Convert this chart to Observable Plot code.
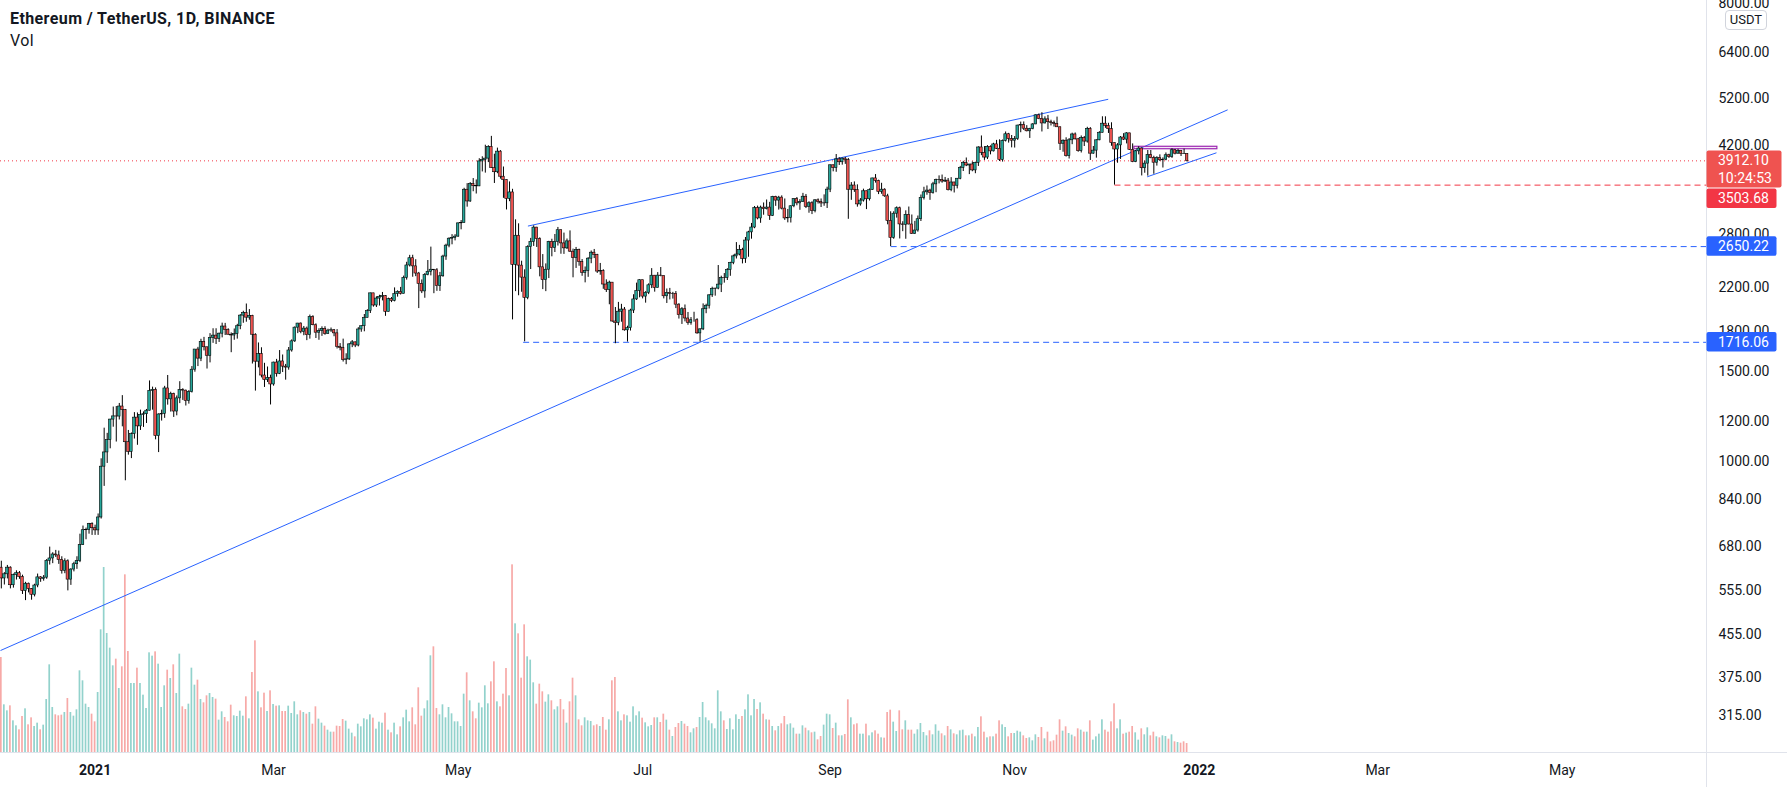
<!DOCTYPE html>
<html>
<head>
<meta charset="utf-8">
<script src="https://cdn.jsdelivr.net/npm/d3@7"></script>
<script src="https://cdn.jsdelivr.net/npm/@observablehq/plot@0.6"></script>
<style>
  html, body { margin: 0; padding: 0; background: #ffffff; }
  #wrap { position: relative; width: 1787px; height: 787px; overflow: hidden; background: #fff; font-family: Roboto, "Liberation Sans", sans-serif; color: #131722; }
  #wrap svg { position: absolute; left: 0; top: 0; }
  .ov { position: absolute; z-index: 5; white-space: nowrap; }
  #title { left: 10px; top: 9px; font-size: 16px; line-height: 19px; font-weight: bold; letter-spacing: 0.4px; }
  #vol { left: 10px; top: 31px; font-size: 16px; line-height: 19px; letter-spacing: 0.4px; }
  #usdt { left: 1725px; top: 10px; width: 42px; height: 20px; box-sizing: border-box; border: 1px solid #d1d4dc; border-radius: 4px; background: #fff; font-size: 13px; line-height: 18px; text-align: center; }
</style>
</head>
<body>
<div id="wrap">
  <div id="title" class="ov">Ethereum / TetherUS, 1D, BINANCE</div>
  <div id="vol" class="ov">Vol</div>
  <div id="usdt" class="ov">USDT</div>
</div>
<script>
// ---------------- DATA (ETH/USDT daily) ----------------
const startDate = "2020-12-01T00:00:00Z";
const firstOpen = 616.6;

const closes = [
  // Dec 2020
  587.2,598.4,616.7,569.4,596.4,601.3,591.2,554.6,573.3,559.8,545.3,568.7,590.1,585.9,589.3,636.3,643.0,654.8,652.0,638.5,608.0,634.9,584.1,611.4,626.4,635.3,683.7,731.0,731.8,751.6,737.7,
  // Jan 2021
  730.4,774.6,975.5,1040.7,1100.2,1208.1,1225.7,1224.9,1281.9,1262.2,1090.1,1043.4,1130.7,1218.9,1171.5,1233.5,1238.0,1257.9,1376.6,1382.9,1121.0,1236.4,1240.0,1391.6,1324.4,1357.1,1253.2,1330.2,1381.8,1378.0,1314.9,
  // Feb
  1369.0,1515.2,1660.7,1593.5,1719.0,1677.8,1614.2,1750.0,1769.1,1743.6,1784.7,1843.4,1814.8,1776.1,1770.0,1781.1,1846.0,1937.1,1960.4,1919.4,1935.4,1776.1,1571.6,1626.6,1475.7,1446.0,1459.5,1417.1,
  // Mar
  1565.1,1487.0,1573.0,1536.6,1530.0,1653.5,1723.5,1834.1,1868.5,1799.0,1826.2,1772.4,1924.5,1854.6,1792.5,1806.5,1823.7,1782.2,1810.0,1812.7,1787.3,1681.5,1670.9,1583.2,1588.0,1699.9,1715.5,1691.3,1818.9,1846.0,1918.1,
  // Apr
  1977.3,2143.2,2028.4,2093.1,2107.9,2117.0,1970.9,2088.6,2071.4,2135.9,2157.6,2139.0,2299.2,2432.6,2514.0,2422.7,2345.0,2237.6,2162.3,2330.0,2364.0,2386.0,2380.0,2216.0,2316.0,2533.0,2662.0,2747.0,2756.0,2773.0,
  // May
  2945,2949,3431,3253,3522,3490,3484,3902,3928,3952,4168,3786,3715,4079,3640,3585,3292,3389,2440,2784,2431,2302,2100,2644,2707,2889,2742,2412,2276,2386,2707,
  // Jun
  2633,2706,2855,2689,2629,2714,2590,2516,2609,2471,2353,2373,2509,2578,2553,2366,2372,2231,2177,2250,1886,1874,1972,1991,1812,1830,1982,2085,2166,2275,
  // Jul
  2112,2149,2223,2322,2197,2323,2317,2115,2148,2138,2139,2036,1941,1994,1912,1875,1897,1897,1787,1820,1994,2026,2124,2188,2190,2230,2299,2298,2382,2461,2535,
  // Aug
  2556,2609,2506,2724,2827,2890,3157,3012,3163,3141,3164,3047,3322,3266,3310,3149,3012,3017,3183,3287,3225,3243,3324,3173,3227,3113,3270,3244,3224,3226,3433,
  // Sep
  3834,3787,3938,3887,3952,3927,3431,3497,3425,3210,3266,3407,3286,3426,3612,3571,3397,3432,3330,2977,2758,3077,3155,2931,2926,3062,2930,2807,2851,3001,
  // Oct
  3307,3391,3418,3382,3516,3584,3587,3561,3576,3424,3546,3494,3607,3789,3872,3830,3848,3746,3877,4157,4057,3971,4169,4084,4216,4131,3928,4285,4414,4320,4287,
  // Nov
  4319,4592,4604,4527,4474,4519,4616,4811,4732,4636,4723,4662,4648,4626,4556,4228,4287,3996,4295,4410,4314,4088,4341,4270,4524,4042,4098,4294,4444,4631,
  // Dec 2021
  4587,4518,4240,4119,4197,4349,4308,4432,4112,3890,4085,4137,3783,3863,4018,3960,3879,3961,3922,3933,4013,3979,4105,4041,4094,4038,4036,3912.1
];

const highs = [
  635,603,623,619,599,608,606,596,577,575,561,572,599,592,595,640,677,660,667,665,648,642,639,614,632,648,718,745,738,754,756,
  748,787,1011,1162,1135,1210,1279,1282,1300,1347,1265,1150,1137,1247,1245,1261,1251,1265,1440,1400,1395,1240,1261,1405,1476,1368,1362,1345,1435,1390,1381,
  1378,1537,1661,1677,1740,1755,1678,1785,1825,1825,1789,1872,1870,1825,1791,1823,1862,1946,1976,2042,1991,1940,1784,1711,1674,1560,1534,1478,
  1568,1588,1653,1620,1552,1676,1735,1840,1870,1874,1844,1839,1942,1936,1866,1825,1841,1842,1821,1831,1819,1818,1706,1741,1629,1706,1730,1719,1834,1849,1947,
  1990,2146,2144,2110,2125,2152,2122,2097,2103,2197,2168,2202,2318,2468,2547,2548,2497,2357,2278,2345,2488,2644,2386,2398,2357,2548,2679,2758,2798,2798,
  2950,2983,3454,3527,3544,3610,3587,3950,3985,4200,4190,4372,4032,4145,4098,3804,3588,3555,3438,2993,2939,2480,2385,2660,2751,2912,2892,2758,2556,2450,2715,
  2740,2800,2891,2858,2818,2743,2846,2620,2640,2620,2499,2416,2520,2598,2616,2559,2455,2386,2279,2265,2250,2010,2057,2039,2010,1846,1994,2130,2245,2280,
  2275,2160,2238,2398,2325,2355,2410,2319,2186,2192,2153,2161,2045,2009,2033,1965,1920,1967,1910,1825,2043,2040,2130,2204,2193,2432,2317,2345,2398,2468,2550,
  2699,2665,2630,2762,2841,2944,3180,3185,3185,3231,3275,3240,3330,3331,3330,3337,3290,3137,3188,3293,3312,3280,3375,3358,3249,3249,3280,3291,3290,3352,3471,
  3840,3839,4026,3970,3963,3973,3955,3544,3555,3508,3296,3440,3411,3444,3614,3676,3583,3533,3446,3361,3104,3104,3174,3171,2967,3118,3172,3059,2972,3045,
  3350,3470,3491,3439,3548,3600,3654,3668,3628,3611,3625,3549,3610,3815,3903,3963,3848,3893,3888,4170,4380,4174,4192,4188,4237,4293,4304,4300,4460,4432,4389,
  4368,4598,4665,4668,4590,4535,4635,4822,4840,4868,4778,4808,4705,4687,4772,4562,4302,4344,4329,4436,4440,4333,4380,4370,4556,4550,4176,4305,4466,4779,
  4778,4640,4650,4243,4230,4369,4426,4447,4434,4225,4100,4170,4148,3907,4100,4100,3995,3986,4020,3965,4055,4031,4133,4119,4123,4098,4126,4040
];

const lows = [
  560,570,586,560,562,583,585,546,531,550,532,540,563,577,580,585,624,628,646,626,599,600,555,569,605,612,631,682,700,718,714,
  714,714,769,892,990,1058,1167,1091,1206,1169,915,1028,1012,1106,1075,1150,1166,1187,1256,1261,1102,1040,1200,1215,1290,1250,1220,1229,1299,1318,1285,
  1296,1363,1498,1537,1572,1650,1520,1563,1708,1699,1715,1751,1770,1773,1637,1732,1741,1817,1871,1880,1897,1555,1375,1528,1460,1398,1430,1291,
  1406,1465,1482,1496,1445,1512,1641,1715,1785,1784,1768,1729,1741,1850,1746,1732,1763,1772,1779,1795,1760,1665,1651,1569,1550,1580,1675,1675,1681,1796,1800,
  1917,1956,2013,2010,2023,2071,1931,1970,2055,2062,2107,2127,2138,2276,2416,2306,2312,2000,2141,2096,2321,2320,2140,2163,2162,2306,2490,2636,2672,2720,
  2764,2860,2949,3170,3240,3400,3365,3480,3720,3700,3881,3780,3530,3690,3600,3300,3130,3250,1900,2160,2120,2154,1720,2082,2388,2652,2640,2310,2180,2160,2292,
  2530,2580,2657,2560,2558,2615,2580,2300,2400,2424,2316,2248,2305,2452,2510,2346,2327,2183,2152,2035,1880,1705,1850,1880,1805,1718,1806,1956,2075,2100,
  2090,2050,2131,2190,2155,2197,2311,2090,2047,2080,2088,2000,1907,1861,1883,1854,1855,1880,1780,1716.06,1810,1954,1996,2104,2116,2178,2151,2245,2272,2316,2441,
  2505,2541,2450,2456,2525,2741,2874,2993,2946,3056,3131,2985,3038,3182,3128,3131,2985,2952,2950,3162,3190,3125,3240,3150,3084,3065,3089,3215,3165,3183,3151,
  3387,3722,3714,3831,3836,3850,3000,3270,3390,3170,3185,3244,3135,3260,3420,3536,3356,3361,3315,2926,2650.22,2740,3016,2744,2836,2740,2924,2800,2801,2830,
  2970,3275,3346,3270,3363,3385,3523,3534,3545,3412,3400,3381,3444,3590,3727,3811,3675,3723,3690,3814,4005,3920,3935,4020,4073,4120,3900,3890,4262,4240,4150,
  4146,4292,4445,4490,4462,4331,4505,4610,4717,4460,4628,4510,4584,4560,4553,4100,4068,3980,3945,4210,4300,4068,4054,4175,4240,3919,4032,3960,4286,4440,
  4534,4430,4180,3503.68,3870,3937,4290,4225,4100,3880,3880,4020,3653,3698,3650,3950,3681,3820,3900,3787,3914,3955,3956,4020,4033,3990,4030,3890
];

// daily volume (thousand ETH)
const volumes = [
  2280,1144,1000,1120,760,640,544,864,1048,664,832,624,704,544,656,1272,2104,1080,904,880,
  896,960,1296,960,872,1024,1960,1720,1160,1080,920,736,1440,2944,4440,2856,2504,2080,2240,1536,
  2056,4264,2424,1656,1656,2024,1656,1376,1056,2392,2312,2416,2120,1080,1600,1976,1776,2104,1416,2360,
  1096,1032,1160,2024,1616,1736,1272,1192,1360,1416,1320,1280,776,976,840,736,1136,880,864,992,
  872,1336,808,1920,2680,1456,1072,1424,984,1480,1152,1112,1120,984,984,1112,936,1216,904,1000,
  960,920,960,680,1096,800,704,632,536,
  488,488,632,624,792,752,560,464,376,680,616,808,784,904,824,560,728,704,944,536,
  472,704,424,616,832,1016,736,1072,664,1552,872,1048,1240,2320,2536,1056,904,1144,832,1080,
  928,736,736,624,1400,1912,1240,976,808,1184,1072,1600,1168,1696,2176,1216,1096,1400,2016,1360,
  4504,3088,2848,1784,3064,2296,2216,1672,1160,1640,1456,1208,1384,1240,1024,1096,1272,1024,704,1216,
  1784,1360,784,640,832,760,744,640,664,624,
  840,536,784,1720,1800,976,760,904,880,728,1096,880,976,824,712,616,648,832,832,720,
  920,776,536,384,600,696,744,680,624,472,568,600,840,1200,832,760,688,568,1480,976,
  760,552,808,544,904,792,864,1024,1384,880,1272,1032,1192,920,784,776,624,520,624,688,
  864,664,688,584,440,440,640,584,520,472,488,304,384,656,920,904,576,704,400,400,
  432,1264,832,664,688,440,440,680,400,472,520,440,352,344,960,1016,728,504,1000,
  544,760,536,536,440,544,696,480,400,520,424,664,512,448,400,624,544,448,424,520,
  536,400,400,440,376,600,856,488,352,376,376,440,760,664,600,376,456,456,512,488,
  400,336,352,280,424,360,600,328,488,256,280,416,784,512,616,456,416,376,568,536,
  488,488,760,296,376,440,784,536,488,736,1168,568,784,440,464,488,624,472,296,568,
  424,592,400,488,376,352,400,384,320,424,256,240,224,256,216
];

// right price axis ticks
const priceTicks = [8000, 6400, 5200, 4200, 2800, 2200, 1800, 1500, 1200, 1000, 840, 680, 555, 455, 375, 315];

// time axis
const timeTicks = ["2021-01-01", "2021-03-01", "2021-05-01", "2021-07-01", "2021-09-01", "2021-11-01", "2022-01-01", "2022-03-01", "2022-05-01"];
const timeLabels = ["2021", "Mar", "May", "Jul", "Sep", "Nov", "2022", "Mar", "May"];

// drawings: trend lines (time, price)
const trendStarts = ["2020-11-30T17:30:00Z", "2021-05-24T02:00:00Z", "2021-12-14T19:00:00Z"];
const trendStartPrices = [423.3, 2909, 3638];
const trendEnds = ["2022-01-10T09:36:00Z", "2021-12-01T22:00:00Z", "2022-01-06T17:00:00Z"];
const trendEndPrices = [4932, 5174, 4058];

// horizontal levels (extend right)
const levelStarts = ["2021-05-22T12:00:00Z", "2021-09-21T00:00:00Z", "2021-12-04T00:00:00Z"];
const levelPrices = [1716.06, 2650.22, 3503.68];
const levelColors = ["#2962ff", "#2962ff", "#f23645"];

// rectangle zone
const zoneTimes = ["2021-12-10T14:00:00Z", "2022-01-07T00:00:00Z"];
const zonePrices = [4124, 4170];

const lastPrice = 3912.10;
const countdown = "10:24:53";

// ---------------- BUILD ----------------
const DAY = 864e5;
const UP = "#26a69a", DOWN = "#ef5350";
const t0 = Date.parse(startDate);
const candles = closes.map((c, i) => {
  const open = i === 0 ? firstOpen : closes[i - 1];
  return { date: new Date(t0 + i * DAY), open, close: c, high: highs[i], low: lows[i], volume: volumes[i], up: c >= open };
});
const trendLines = trendStarts.map((s, i) => ({ x1: new Date(s), y1: trendStartPrices[i], x2: new Date(trendEnds[i]), y2: trendEndPrices[i] }));
const xDomain = [new Date("2020-11-30T17:30:00Z"), new Date("2022-06-17T16:48:00Z")];
const levels = levelStarts.map((s, i) => ({ from: new Date(s), to: xDomain[1], price: levelPrices[i], color: levelColors[i] }));
const zone = [{ x1: new Date(zoneTimes[0]), x2: new Date(zoneTimes[1]), y1: zonePrices[0], y2: zonePrices[1] }];
const xLabels = timeTicks.map((t, i) => ({ date: new Date(t + "T00:00:00Z"), label: timeLabels[i], year: /^\d{4}$/.test(timeLabels[i]) }));

const W = 1787, H = 787;
const FONT = "Roboto, 'Liberation Sans', sans-serif";
const common = {
  width: W, height: H, marginLeft: 0, marginRight: 81, marginTop: 0, marginBottom: 35,
  style: "background: transparent; font-family: Roboto, 'Liberation Sans', sans-serif; font-size: 14px;"
};

const volChart = Plot.plot({
  ...common,
  x: { type: "utc", domain: xDomain, axis: null },
  y: { domain: [0, 4512], range: [752, 564], axis: null },
  marks: [
    Plot.rect(candles, {
      x1: d => new Date(+d.date - 0.28 * DAY), x2: d => new Date(+d.date + 0.28 * DAY),
      y1: 0, y2: "volume", fill: d => d.up ? UP : DOWN, fillOpacity: 0.5
    })
  ]
});

const chart = Plot.plot({
  ...common,
  x: { type: "utc", domain: xDomain, axis: null },
  y: { type: "log", domain: [266.4, 8103] },
  marks: [
    Plot.ruleY([lastPrice], { stroke: "#f23645", strokeDasharray: "1,3", strokeWidth: 1 }),
    Plot.link(levels, { x1: "from", x2: "to", y1: "price", y2: "price", stroke: "color", strokeDasharray: "6,4", strokeWidth: 1 }),
    Plot.link(trendLines, { x1: "x1", y1: "y1", x2: "x2", y2: "y2", stroke: "#2962ff", strokeWidth: 1, clip: true }),
    Plot.rect(zone, { x1: "x1", x2: "x2", y1: "y1", y2: "y2", fill: "#9c27b0", fillOpacity: 0.1, stroke: "#9c27b0", strokeWidth: 1.2 }),
    Plot.ruleX(candles, { x: "date", y1: "low", y2: "high", stroke: "#000", strokeWidth: 1 }),
    Plot.rect(candles, {
      x1: d => new Date(+d.date - 0.42 * DAY), x2: d => new Date(+d.date + 0.42 * DAY),
      y1: "open", y2: "close", fill: d => d.up ? UP : DOWN, stroke: "#000", strokeWidth: 0.6
    }),
    Plot.axisY(priceTicks, { anchor: "right", tickSize: 0, tickPadding: 12, tickFormat: d3.format(".2f"), label: null, fontSize: 14, fill: "#131722" }),
    Plot.text(xLabels.filter(d => d.year), { x: "date", text: "label", frameAnchor: "bottom", dy: 18, lineAnchor: "middle", fontSize: 14, fontWeight: "bold", fill: "#131722" }),
    Plot.text(xLabels.filter(d => !d.year), { x: "date", text: "label", frameAnchor: "bottom", dy: 18, lineAnchor: "middle", fontSize: 14, fill: "#131722" })
  ]
});

const wrap = document.getElementById("wrap");
wrap.insertBefore(chart, wrap.firstChild);
wrap.insertBefore(volChart, wrap.firstChild);

// frame lines + right-side price labels using the plot's scales
const ys = chart.scale("y");
const xs = chart.scale("x");
const right = xs.range[1];
const bottom = ys.range[0];
const svg = d3.select(chart);
svg.append("line").attr("x1", 0).attr("x2", W).attr("y1", bottom + 0.5).attr("y2", bottom + 0.5).attr("stroke", "#e0e3eb");
svg.append("line").attr("x1", right + 0.5).attr("x2", right + 0.5).attr("y1", 0).attr("y2", H).attr("stroke", "#e0e3eb");

const boxes = [
  { price: lastPrice, lines: [d3.format(".2f")(lastPrice), countdown], color: "#ef5350", w: 75 },
  { price: levelPrices[2], lines: [d3.format(".2f")(levelPrices[2])], color: "#f23645", w: 70 },
  { price: levelPrices[1], lines: [d3.format(".2f")(levelPrices[1])], color: "#2962ff", w: 70 },
  { price: levelPrices[0], lines: [d3.format(".2f")(levelPrices[0])], color: "#2962ff", w: 70 }
];
let prevBottom = -Infinity;
const g = svg.append("g").attr("text-anchor", "start");
for (const b of boxes) {
  const lh = 17.5;
  const h = b.lines.length * lh + 2;
  let top = ys.apply(b.price) - lh / 2 - 1;
  if (top < prevBottom + 1) top = prevBottom + 1;
  prevBottom = top + h;
  g.append("rect").attr("x", right + 0.5).attr("y", top).attr("width", b.w).attr("height", h).attr("rx", 2).attr("fill", b.color);
  b.lines.forEach((t, i) => {
    g.append("text").attr("x", right + 12).attr("y", top + 1 + lh * i + lh / 2)
      .attr("text-anchor", "start").attr("dominant-baseline", "central").attr("fill", "#fff")
      .attr("font-size", 14).attr("font-family", FONT).text(t);
  });
}
</script>
</body>
</html>
